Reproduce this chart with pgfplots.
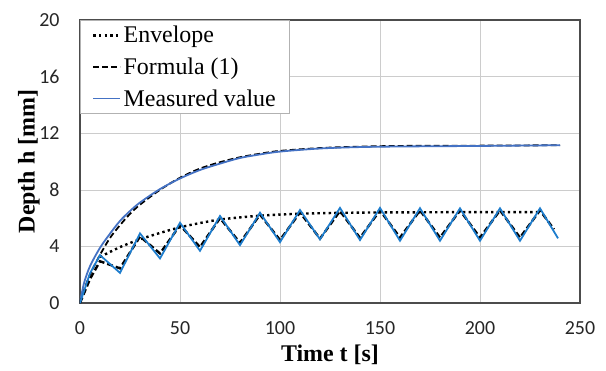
\documentclass[border=0pt]{standalone}
\usepackage{fontspec}
\setmainfont{Liberation Serif}
\newfontfamily\tickfont{Carlito}
\usepackage{pgfplots}
\pgfplotsset{compat=1.18}
\definecolor{blueA}{RGB}{68,114,196}
\definecolor{blueB}{RGB}{30,125,205}
\begin{document}
\begin{tikzpicture}
\begin{axis}[
 scale only axis, width=500bp, height=283bp,
 xmin=0,xmax=250,ymin=0,ymax=20,
 xtick={0,50,...,250}, ytick={0,4,...,20},
 grid=major, major grid style={gray!40, line width=0.6pt},
 axis line style={draw=black!70, line width=1.6pt},
 tick style={draw=none},
 ticklabel style={font=\fontsize{20}{20}\selectfont\tickfont, text=black!85},
 /pgf/number format/assume math mode=true,
 xticklabel style={yshift=-15bp},
 yticklabel style={xshift=-17bp},
 xlabel={\textbf{Time t [s]}}, ylabel={\textbf{Depth h [mm]}},
 label style={font=\rmfamily\fontsize{24}{24}\selectfont},
 xlabel style={at={(axis description cs:0.5,-0.184)}, anchor=center},
 ylabel style={at={(axis description cs:-0.102,0.5)}, anchor=center},
 legend style={at={(rel axis cs:0,1)}, anchor=north west, draw=gray!60, line width=0.6pt, fill=white,
   font=\rmfamily\fontsize{24}{24}\selectfont, inner xsep=12bp, inner ysep=4bp, row sep=9.5bp},
 legend cell align=left,
 legend image code/.code={\draw[#1] (0bp,0bp) -- (27bp,0bp);},
]
\addplot[black, line width=2.4bp, dash pattern=on 2.4bp off 3.2bp, smooth] coordinates {
(10,3.25) (20,3.95) (30,4.5) (40,4.95) (50,5.35) (60,5.65) (70,5.9) (80,6.05) (90,6.17) (100,6.25)
(110,6.31) (130,6.37) (150,6.4) (170,6.41) (190,6.42) (210,6.42) (230,6.42)};
\addlegendentry{Envelope}
\addplot[black, line width=1.8bp, dash pattern=on 6bp off 3bp, smooth] coordinates {
(0,0) (2,0.9) (5,2.0) (10,3.4) (15,4.6) (20,5.5) (25,6.3) (30,6.95) (40,8.0) (50,8.85) (60,9.5)
(70,9.95) (80,10.3) (90,10.55) (100,10.75) (120,10.95) (140,11.05) (160,11.1) (200,11.12) (240,11.15)};
\addlegendentry{Formula (1)}
\addplot[blueA, line width=1.8bp, smooth] coordinates {
(0,0) (2,1.4) (5,2.6) (10,3.9) (15,4.9) (20,5.8) (25,6.5) (30,7.1) (40,8.05) (50,8.8) (60,9.4)
(70,9.85) (80,10.25) (90,10.5) (100,10.7) (120,10.92) (140,11.02) (160,11.06) (200,11.1) (240,11.15)};
\addlegendentry{Measured value}
\addplot[forget plot, black, line width=2.4bp, dash pattern=on 6bp off 3bp] coordinates {
(0,0) (5,1.7) (10,2.95) (20,2.45) (30,4.7) (40,3.5) (50,5.5) (60,3.95) (70,6.0) (80,4.25) (90,6.25)
(100,4.45) (110,6.4) (120,4.55) (130,6.5) (140,4.6) (150,6.55) (160,4.62) (170,6.55) (180,4.62)
(190,6.55) (200,4.62) (210,6.55) (220,4.62) (230,6.55) (237,5.2)};
\addplot[forget plot, blueB, line width=1.8bp] coordinates {
(0,0) (5,2.1) (10,3.38) (20,2.13) (30,4.92) (40,3.15) (50,5.67) (60,3.69) (70,6.15) (80,4.09) (90,6.38)
(100,4.3) (110,6.57) (120,4.5) (130,6.72) (140,4.45) (150,6.72) (160,4.4) (170,6.7) (180,4.4)
(190,6.69) (200,4.4) (210,6.69) (220,4.4) (230,6.69) (239,4.57)};
\end{axis}
\pgfresetboundingbox
\path ([shift={(-80bp,-68bp)}]current axis.south west) rectangle ([shift={(26bp,20bp)}]current axis.north east);
\end{tikzpicture}
\end{document}
